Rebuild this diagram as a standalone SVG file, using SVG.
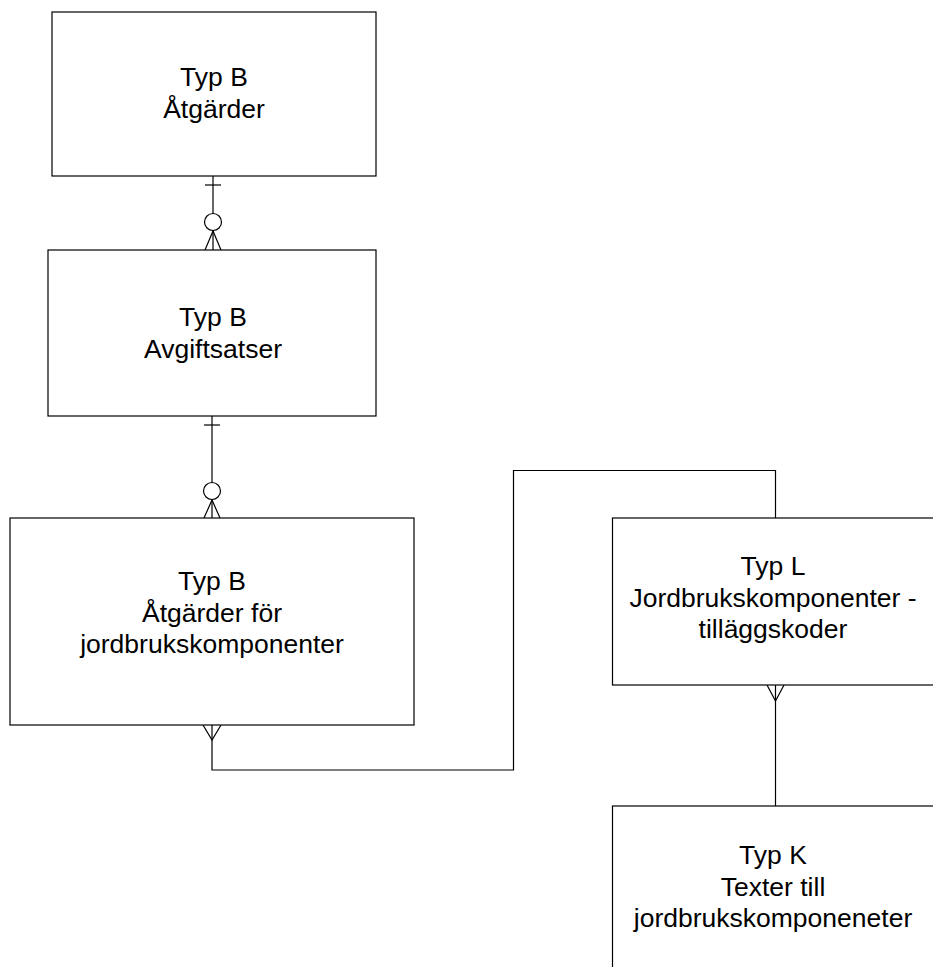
<svg xmlns="http://www.w3.org/2000/svg" width="933" height="967" viewBox="0 0 933 967">
<style>
.box{fill:#fff;stroke:#000;stroke-width:1.2}
.lbl{font-family:"Liberation Sans",Arial,sans-serif;font-size:26.5px;fill:#000;text-anchor:middle}
.ln{fill:none;stroke:#000;stroke-width:1.2}
.circ{fill:#fff;stroke:#000;stroke-width:1.2}
</style>
<rect width="933" height="967" fill="#fff"/>
<g id="connectors">
  <g id="c1">
    <line class="ln" x1="213" y1="176" x2="213" y2="250"/>
    <line class="ln" x1="205" y1="185" x2="221" y2="185"/>
    <circle class="circ" cx="213" cy="222" r="8.5"/>
    <path class="ln" d="M213,231 L205,250 M213,231 L221,250"/>
  </g>
  <g id="c2">
    <line class="ln" x1="212" y1="416" x2="212" y2="518"/>
    <line class="ln" x1="204" y1="425" x2="220" y2="425"/>
    <circle class="circ" cx="212" cy="491" r="8.5"/>
    <path class="ln" d="M212,500 L204,518 M212,500 L220,518"/>
  </g>
  <g id="c3">
    <path class="ln" d="M212,725 L212,770 L513.5,770 L513.5,470.5 L775.5,470.5 L775.5,518"/>
    <path class="ln" d="M203,725 L212,740 L221,725"/>
  </g>
  <g id="c4">
    <line class="ln" x1="775.5" y1="685" x2="775.5" y2="806"/>
    <path class="ln" d="M767,685 L775.5,701 L784,685"/>
  </g>
</g>
<g id="n1">
  <rect class="box" x="52" y="12" width="324" height="164"/>
  <text class="lbl" x="214" y="86">Typ B</text>
  <text class="lbl" x="214" y="117.5">Åtgärder</text>
</g>
<g id="n2">
  <rect class="box" x="48" y="250" width="328" height="166"/>
  <text class="lbl" x="213" y="326">Typ B</text>
  <text class="lbl" x="213" y="357.5">Avgiftsatser</text>
</g>
<g id="n3">
  <rect class="box" x="10" y="518" width="404" height="207"/>
  <text class="lbl" x="212" y="590">Typ B</text>
  <text class="lbl" x="212" y="621.5">Åtgärder för</text>
  <text class="lbl" x="212" y="653">jordbrukskomponenter</text>
</g>
<g id="n4">
  <rect class="box" x="612.5" y="518" width="322" height="167"/>
  <text class="lbl" x="773" y="575">Typ L</text>
  <text class="lbl" x="773" y="606.5">Jordbrukskomponenter -</text>
  <text class="lbl" x="773" y="638">tilläggskoder</text>
</g>
<g id="n5">
  <rect class="box" x="612.5" y="806" width="322" height="170"/>
  <text class="lbl" x="773" y="864">Typ K</text>
  <text class="lbl" x="773" y="895.5">Texter till</text>
  <text class="lbl" x="773" y="927">jordbrukskomponeneter</text>
</g>
</svg>
